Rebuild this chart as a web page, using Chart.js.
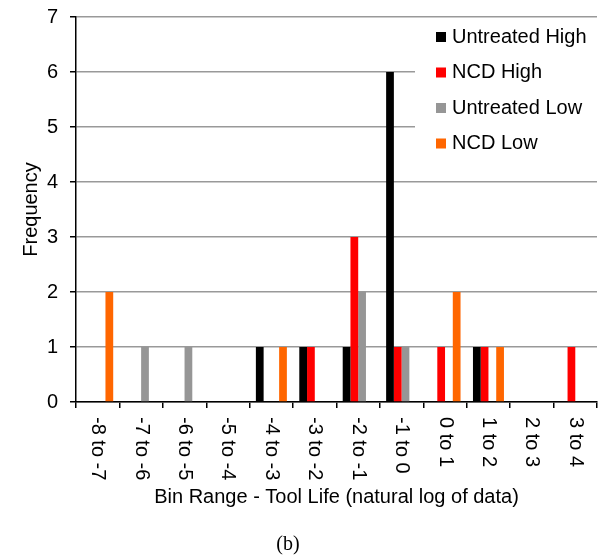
<!DOCTYPE html>
<html>
<head>
<meta charset="utf-8">
<script src="https://cdn.jsdelivr.net/npm/chart.js@4.4.1/dist/chart.umd.min.js"></script>
<style>
	html, body { margin: 0; padding: 0; background: #fff; }
	#wrap { width: 602px; height: 558px; }
</style>
</head>
<body>
<div id="wrap"><canvas id="chart" width="602" height="558"></canvas></div>
<script>
const categories = ['-8 to -7', '-7 to -6', '-6 to -5', '-5 to -4', '-4 to -3', '-3 to -2',
	'-2 to -1', '-1 to 0', '0 to 1', '1 to 2', '2 to 3', '3 to 4']
const untreatedHigh = [0, 0, 0, 0, 1, 1, 1, 6, 0, 1, 0, 0]
const ncdHigh = [0, 0, 0, 0, 0, 1, 3, 1, 1, 1, 0, 1]
const untreatedLow = [0, 1, 1, 0, 0, 0, 2, 1, 0, 0, 0, 0]
const ncdLow = [2, 0, 0, 0, 1, 0, 0, 0, 2, 1, 0, 0]
const xTitle = 'Bin Range - Tool Life (natural log of data)'
const caption = '(b)'

const FONT = '"Liberation Sans", Arial, sans-serif'

/* draws the rotated x labels, the axis title, the caption and the boxed legend */
const extras = {
	id: 'extras',
	afterDraw(chart) {
		const ctx = chart.ctx
		const x = chart.scales.x
		const area = chart.chartArea
		ctx.save()
		ctx.fillStyle = '#000'
		ctx.font = '20px ' + FONT
		ctx.textAlign = 'left'
		ctx.textBaseline = 'middle'
		categories.forEach(function(lbl, i) {
			ctx.save()
			ctx.translate(x.getPixelForValue(i), area.bottom + 15)
			ctx.rotate(Math.PI / 2)
			ctx.fillText(lbl, 0, 0)
			ctx.restore()
		})
		ctx.textAlign = 'center'
		ctx.fillText(xTitle, (area.left + area.right) / 2, 497)
		ctx.font = '20px "Liberation Serif", "Times New Roman", serif'
		ctx.fillText(caption, 288, 545)

		// legend
		ctx.fillStyle = '#fff'
		ctx.fillRect(415, 20, area.right - 415, 140)
		ctx.font = '20px ' + FONT
		ctx.textAlign = 'left'
		chart.data.datasets.forEach(function(ds, i) {
			const cy = 37 + i * 35.5
			ctx.fillStyle = ds.backgroundColor
			ctx.fillRect(436, cy - 5, 10, 10)
			ctx.fillStyle = '#000'
			ctx.fillText(ds.label, 452, cy)
		})
		ctx.restore()
	}
}

new Chart(document.getElementById('chart'), {
	type: 'bar',
	data: {
		labels: categories,
		datasets: [
			{ label: 'Untreated High', data: untreatedHigh, backgroundColor: '#000000' },
			{ label: 'NCD High', data: ncdHigh, backgroundColor: '#ff0000' },
			{ label: 'Untreated Low', data: untreatedLow, backgroundColor: '#969696' },
			{ label: 'NCD Low', data: ncdLow, backgroundColor: '#ff6600' }
		]
	},
	options: {
		responsive: false,
		animation: false,
		layout: { padding: { top: 17, right: 5, left: 0, bottom: 0 } },
		datasets: {
			bar: { categoryPercentage: 0.714, barPercentage: 1, borderWidth: 0 }
		},
		plugins: {
			legend: { display: false },
			tooltip: { enabled: false }
		},
		scales: {
			x: {
				ticks: { display: false },
				grid: { offset: true, drawOnChartArea: false, color: '#000', tickLength: 6, lineWidth: 1.5 },
				border: { color: '#000', width: 1.5 },
				afterFit: function(scale) { scale.height = 156; scale.paddingLeft = 0; scale.paddingRight = 0 }
			},
			y: {
				min: 0,
				max: 7,
				ticks: { stepSize: 1, color: '#000', padding: 12, font: { family: FONT, size: 20 } },
				grid: { color: '#999999', lineWidth: 1.5, tickColor: '#000', tickLength: 6 },
				border: { color: '#000', width: 1.5 },
				title: { display: true, text: 'Frequency', color: '#000', padding: { top: 19, bottom: 0 }, font: { family: FONT, size: 20 } },
				afterFit: function(scale) { scale.width = 76; scale.paddingTop = 0; scale.paddingBottom = 0 }
			}
		}
	},
	plugins: [extras]
})
</script>
</body>
</html>
